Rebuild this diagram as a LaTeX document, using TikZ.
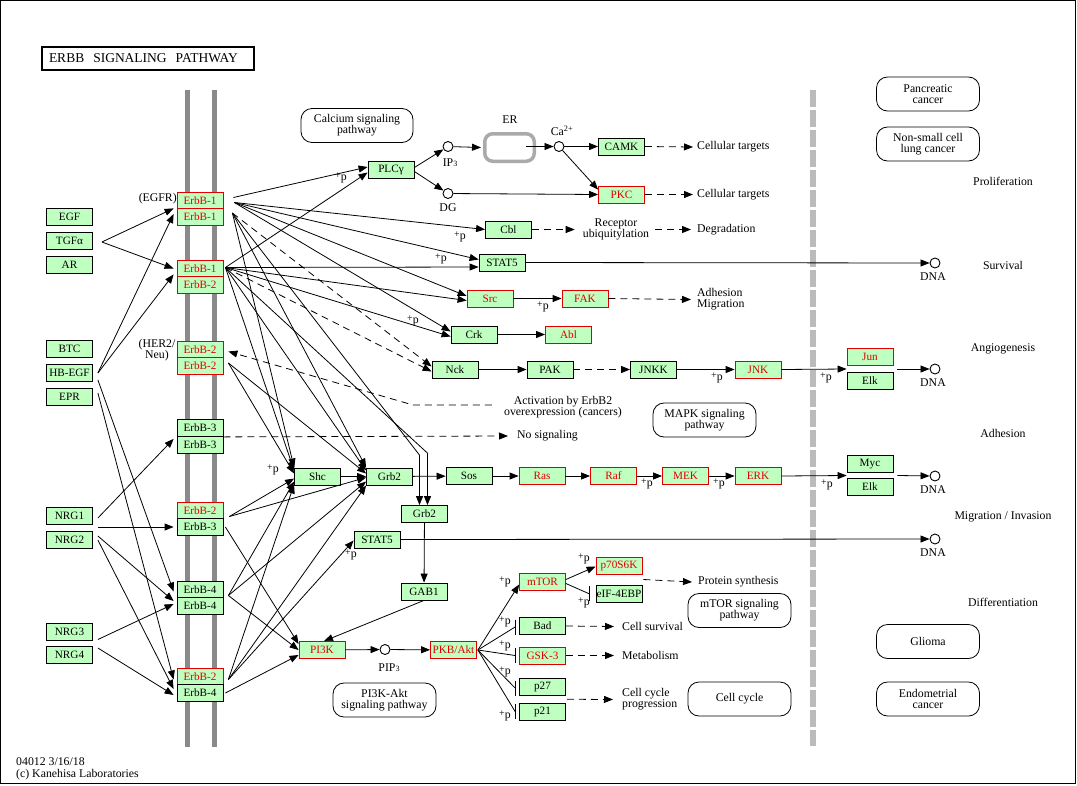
\documentclass[tikz,border=0pt]{standalone}
\usepackage{fontspec}
\setmainfont{Liberation Serif}
\usetikzlibrary{arrows.meta,calc}
\definecolor{kgreen}{HTML}{BFFFBF}
\definecolor{kred}{HTML}{E00000}
\definecolor{memgray}{HTML}{8A8A8A}
\definecolor{sepgray}{HTML}{BBBBBB}
\definecolor{ergray}{HTML}{AAAAAA}
\newcommand\kgf{\fontsize{11.2}{11}\selectfont}
\newcommand\klf{\fontsize{11.8}{11.3}\selectfont}
\newcommand\kp{\raisebox{1.5pt}{\fontsize{10}{10}\selectfont+}p}
\newcommand\ksub[1]{{\fontsize{8}{8}\selectfont #1}}
\begin{document}
\begin{tikzpicture}[x=1pt,y=-1pt,
  gene/.style={draw=black, fill=kgreen, minimum width=46pt, minimum height=17pt, inner sep=0pt, font=\kgf, line width=0.8pt},
  rgene/.style={gene, draw=kred, text=kred},
  kmap/.style={draw, rounded corners=11pt, minimum width=103pt, minimum height=34pt, align=center, font=\klf, inner sep=1pt, line width=0.8pt},
  lbl/.style={font=\klf, align=center, inner sep=0pt},
  cpd/.style={circle, draw, fill=white, minimum size=10pt, inner sep=0pt, line width=0.9pt},
  karr/.style={line width=0.8pt, -{Triangle[length=9pt,width=7pt]}},
  kdash/.style={karr, dash pattern=on 7pt off 5pt},
  kinh/.style={line width=0.8pt, -{Bar[width=15pt,line width=1pt]}},
  kline/.style={line width=0.8pt},
  mem/.style={line width=5pt, memgray},
  sepl/.style={line width=6pt, sepgray, dash pattern=on 17pt off 3pt}
]
\useasboundingbox (0,0) rectangle (1077,785);
\fill[white] (0,0) rectangle (1077,785);
\draw[line width=1.2pt] (0.6,0.6) rectangle (1075.4,783.4);

% membrane and separator
\draw[mem] (187,90) -- (187,747);
\draw[mem] (214,90) -- (214,747);
\draw[sepl] (813,90) -- (813,746);

% title and footer
\node[draw, line width=2pt, anchor=west, text width=198pt, inner xsep=7pt, minimum height=23pt, align=left, font=\fontsize{13.5}{13.5}\selectfont] (title) at (41,58.5) {ERBB\ \ SIGNALING\ \ PATHWAY};
\node[lbl, anchor=west] (foot1) at (16,762) {04012 3/16/18};
\node[lbl, anchor=west] (foot2) at (16,775) {(c) Kanehisa Laboratories};

% ligands
\node[gene] (egf) at (69.5,216.5) {EGF};
\node[gene] (tgf) at (69.5,241) {TGFα};
\node[gene] (ar) at (69.5,265) {AR};
\node[gene] (btc) at (69.5,349) {BTC};
\node[gene] (hbegf) at (69.5,373) {HB-EGF};
\node[gene] (epr) at (69.5,397) {EPR};
\node[gene] (nrg1) at (69.5,516) {NRG1};
\node[gene] (nrg2) at (69.5,540) {NRG2};
\node[gene] (nrg3) at (69.5,631.5) {NRG3};
\node[gene] (nrg4) at (69.5,655) {NRG4};

% receptors
\node[rgene] (e11a) at (200,200.5) {ErbB-1};
\node[rgene] (e11b) at (200,217) {ErbB-1};
\node[rgene] (e12a) at (200,268.5) {ErbB-1};
\node[rgene] (e12b) at (200,285) {ErbB-2};
\node[rgene] (e22a) at (200,349.5) {ErbB-2};
\node[rgene] (e22b) at (200,366) {ErbB-2};
\node[gene] (e33a) at (200,428) {ErbB-3};
\node[gene] (e33b) at (200,444.5) {ErbB-3};
\node[rgene] (e23a) at (200,510.5) {ErbB-2};
\node[gene] (e23b) at (200,527) {ErbB-3};
\node[gene] (e44a) at (200,589.5) {ErbB-4};
\node[gene] (e44b) at (200,606) {ErbB-4};
\node[rgene] (e24a) at (200,676.5) {ErbB-2};
\node[gene] (e24b) at (200,693) {ErbB-4};
\node[lbl, anchor=east] (egfr) at (177,198.5) {(EGFR)};
\node[lbl] (her2) at (157,350) {(HER2/\\Neu)};

% downstream nodes
\node[gene] (plc) at (391,169.5) {PLCγ};
\node[cpd] (ip3) at (448,146.5) {};
\node[cpd] (dg) at (448,193.5) {};
\node[draw=ergray, line width=3.5pt, rounded corners=8pt, minimum width=49.5pt, minimum height=27.5pt, inner sep=0pt] (er) at (509.5,147.5) {};
\node[cpd] (ca) at (559,146.5) {};
\node[gene] (camk) at (621.5,146.5) {CAMK};
\node[rgene] (pkc) at (621.5,194.5) {PKC};
\node[gene] (cbl) at (508.5,229.5) {Cbl};
\node[gene] (stat5a) at (502,262.5) {STAT5};
\node[rgene] (src) at (490,298.5) {Src};
\node[rgene] (fak) at (585,298.5) {FAK};
\node[gene] (crk) at (474,334.5) {Crk};
\node[rgene] (abl) at (568.5,334.5) {Abl};
\node[gene] (nck) at (455,369.5) {Nck};
\node[gene] (pak) at (550,369.5) {PAK};
\node[gene] (jnkk) at (653.5,369.5) {JNKK};
\node[rgene] (jnk) at (758,369.5) {JNK};
\node[rgene] (jun) at (870,357) {Jun};
\node[gene] (elk1) at (870,381) {Elk};
\node[gene] (shc) at (317.5,476.5) {Shc};
\node[gene] (grb2) at (389.5,476.5) {Grb2};
\node[gene] (sos) at (469,476) {Sos};
\node[rgene] (ras) at (542,476) {Ras};
\node[rgene] (raf) at (613.5,476) {Raf};
\node[rgene] (mek) at (685.5,476) {MEK};
\node[rgene] (erk) at (758,476) {ERK};
\node[gene] (myc) at (870,464) {Myc};
\node[gene] (elk2) at (870,487) {Elk};
\node[gene] (grb2b) at (424.5,514) {Grb2};
\node[gene] (stat5b) at (377,539.5) {STAT5};
\node[gene] (gab1) at (424,591.5) {GAB1};
\node[rgene] (pi3k) at (322,650) {PI3K};
\node[cpd] (pip3) at (385,649.5) {};
\node[rgene] (akt) at (453.5,650) {PKB/Akt};
\node[rgene] (mtor) at (542.5,581.5) {mTOR};
\node[rgene] (p70) at (619,565.5) {p70S6K};
\node[gene] (eif) at (619,593.5) {eIF-4EBP};
\node[gene] (bad) at (542.5,626) {Bad};
\node[rgene] (gsk) at (542.5,655.5) {GSK-3};
\node[gene] (p27) at (542.5,687) {p27};
\node[gene] (p21) at (542.5,711.5) {p21};
\node[cpd] (dna1) at (935,263) {};
\node[cpd] (dna2) at (935,369) {};
\node[cpd] (dna3) at (935,476) {};
\node[cpd] (dna4) at (935,539) {};

% compound and text labels
\node[lbl] (erl) at (510,120) {ER};
\node[lbl] (cal) at (562,131) {Ca\textsuperscript{2+}};
\node[lbl] (ip3l) at (450,163) {IP\ksub{3}};
\node[lbl] (dgl) at (448,208) {DG};
\node[lbl] (pip3l) at (389,668) {PIP\ksub{3}};
\node[lbl] (dnal1) at (933,277) {DNA};
\node[lbl] (dnal2) at (933,383) {DNA};
\node[lbl] (dnal3) at (933,490) {DNA};
\node[lbl] (dnal4) at (933,553) {DNA};
\node[lbl, anchor=west] (ct1) at (697,147) {Cellular targets};
\node[lbl, anchor=west] (ct2) at (697,194.5) {Cellular targets};
\node[lbl] (rubq) at (616,229.5) {Receptor\\ubiquitylation};
\node[lbl, anchor=west] (degr) at (697,229.5) {Degradation};
\node[lbl, anchor=west, align=left] (admi) at (697,299.5) {Adhesion\\Migration};
\node[lbl] (act) at (563,407) {Activation by ErbB2\\overexpression (cancers)};
\node[lbl, anchor=west] (nosig) at (517,436) {No signaling};
\node[lbl, anchor=west] (psyn) at (698,582) {Protein synthesis};
\node[lbl, anchor=west] (csurv) at (622,626.5) {Cell survival};
\node[lbl, anchor=west] (metab) at (622,655.5) {Metabolism};
\node[lbl, anchor=west, align=left] (ccp) at (622,699.5) {Cell cycle\\progression};

% right side labels
\node[lbl] (prol) at (1003,181) {Proliferation};
\node[lbl] (surv) at (1003,265) {Survival};
\node[lbl] (angi) at (1003,349) {Angiogenesis};
\node[lbl] (adhe) at (1003,433) {Adhesion};
\node[lbl] (migr) at (1003,517) {Migration / Invasion};
\node[lbl] (diff) at (1003,602) {Differentiation};

% maps
\node[kmap, minimum width=112pt] (calcm) at (357,125.5) {Calcium signaling\\pathway};
\node[kmap] (mapk) at (704.5,420) {MAPK signaling\\pathway};
\node[kmap] (pi3km) at (384.5,700) {PI3K-Akt\\signaling pathway};
\node[kmap] (mtorm) at (739.5,610.5) {mTOR signaling\\pathway};
\node[kmap] (ccyc) at (739.5,699) {Cell cycle};
\node[kmap] (panc) at (928,94) {Pancreatic\\cancer};
\node[kmap] (nsclc) at (928,144) {Non-small cell\\lung cancer};
\node[kmap] (glio) at (928,641.5) {Glioma};
\node[kmap] (endo) at (928,699) {Endometrial\\cancer};

% +p labels
\node[lbl] (pp1) at (341,178) {\kp};
\node[lbl] (pp2) at (460,237) {\kp};
\node[lbl] (pp3) at (441,259) {\kp};
\node[lbl] (pp4) at (543,307) {\kp};
\node[lbl] (pp5) at (413,321) {\kp};
\node[lbl] (pp6) at (273,470) {\kp};
\node[lbl] (pp7) at (351,555) {\kp};
\node[lbl] (pp8) at (717,378) {\kp};
\node[lbl] (pp9) at (826,378) {\kp};
\node[lbl] (pp10) at (647,484) {\kp};
\node[lbl] (pp11) at (719,484) {\kp};
\node[lbl] (pp12) at (827,485) {\kp};
\node[lbl] (pp13) at (505,582) {\kp};
\node[lbl] (pp14) at (584,559) {\kp};
\node[lbl] (pp15) at (584,603) {\kp};
\node[lbl] (pp16) at (505,622) {\kp};
\node[lbl] (pp17) at (505,646) {\kp};
\node[lbl] (pp18) at (505,672) {\kp};
\node[lbl] (pp19) at (505,716) {\kp};

% ligand group points
\coordinate (gE) at ($(tgf.east)+(9,1)$);
\coordinate (gB) at ($(hbegf.east)+(5,0)$);
\coordinate (gB1) at ($(hbegf.east)+(5,7)$);
\coordinate (gB2) at ($(epr.east)+(5,-4)$);
\coordinate (gN1) at ($(nrg1.east)+(5,2)$);
\coordinate (gN) at ($(nrg1.east)+(5,11)$);
\coordinate (gN2) at ($(nrg2.east)+(5,-4)$);
\coordinate (gN3) at ($(nrg2.east)+(5,0)$);
\coordinate (gM1) at ($(nrg3.east)+(5,8)$);
\coordinate (gM2) at ($(nrg4.east)+(5,-7)$);

% ligand -> receptor
\draw[karr] (gE) -- ($(e11a.south west)+(-3,-1)$);
\draw[karr] (gE) -- ($(e12a.west)+(-3,0)$);
\draw[karr] (gB) -- ($(e11b.west)+(-3,-3)$);
\draw[karr] (gB) -- ($(e12a.south west)+(-3,-3)$);
\draw[karr] (gB1) -- ($(e44a.west)+(-3,2)$);
\draw[karr] (gB2) -- ($(e24a.west)+(-3,3)$);
\draw[karr] (gN1) -- ($(e33a.south west)+(-3,2)$);
\draw[karr] (gN) -- ($(e23b.west)+(-3,0)$);
\draw[karr] (gN2) -- ($(e44b.west)+(-3,-5)$);
\draw[karr] (gN3) -- ($(e24b.west)+(-3,-4)$);
\draw[karr] (gM1) -- ($(e44b.west)+(-3,-2)$);
\draw[karr] (gM2) -- ($(e24b.west)+(-3,2)$);

% receptor source points
\coordinate (s11p) at ($(e11a.east)+(10,-3)$);
\coordinate (s11) at ($(e11a.east)+(11,2)$);
\coordinate (s11d) at ($(e11b.east)+(9,-4)$);
\coordinate (s12) at ($(e12a.east)+(2,-1)$);
\coordinate (s22) at ($(e22b.east)+(5,-3)$);
\coordinate (s23) at ($(e23a.east)+(6,6)$);
\coordinate (s23b) at ($(e23b.east)+(2,0)$);
\coordinate (s44) at ($(e44a.east)+(5,6)$);
\coordinate (s24) at ($(e24a.east)+(5,3)$);
\coordinate (s24b) at ($(e24b.east)+(2,0)$);

% ErbB-1 fan
\draw[karr] (s11p) -- ($(plc.west)+(0,-2.5)$);
\draw[karr] (s12) -- ($(plc.west)+(0,3)$);
\draw[karr] (s11) -- (cbl.west);
\draw[karr] (s11) -- ($(stat5a.west)+(0,-3)$);
\draw[karr] (s12) -- ($(stat5a.west)+(0,4.5)$);
\draw[karr] (s11) -- ($(src.west)+(0,-2.5)$);
\draw[karr] (s12) -- ($(src.west)+(0,2)$);
\draw[karr] (s11) -- ($(crk.west)+(0,-3)$);
\draw[karr] (s12) -- ($(crk.west)+(0,2)$);
\draw[kdash] (s11d) -- ($(nck.west)+(0,-3)$);
\draw[kdash] (s12) -- ($(nck.west)+(0,2)$);
\draw[karr] (s11d) -- ($(grb2b.north)+(-5,-50)$) -- ($(grb2b.north)+(-5,0)$);
\draw[karr] (s12) -- ($(grb2b.north)+(3,-52)$) -- ($(grb2b.north)+(3,0)$);

% to Shc / Grb2 / PI3K / STAT5
\foreach \src/\dy in {s11d/-9,s12/-6,s22/-3,s23/2,s44/5,s24/8}
  \draw[karr] (\src) -- ($(shc.west)+(0,\dy)$);
\foreach \src/\dy in {s11d/-9,s12/-6,s22/-3,s23/1,s44/5,s24/9}
  \draw[karr] (\src) -- ($(grb2.west)+(0,\dy)$);
\foreach \src/\dy in {s23b/-6,s44/0,s24b/5}
  \draw[karr] (\src) -- ($(pi3k.west)+(0,\dy)$);
\draw[karr] (s24) -- ($(stat5b.west)+(0,1)$);

% ErbB2 overexpression and no signaling
\draw[kdash] ($(act.west)+(-12,-2)$) -- ++(-79,0) -- ($(e22a.east)+(5,2)$);
\draw[kdash] (e33a.south east) -- ($(nosig.west)+(-9,0)$);

% calcium branch
\draw[karr] ($(plc.east)+(0,-2)$) -- (ip3);
\draw[karr] ($(plc.east)+(0,2)$) -- (dg);
\draw[karr] (ip3) -- ($(er.west)+(-2,0)$);
\draw[karr] ($(er.center)+(16,-1)$) -- (ca);
\draw[karr] (ca) -- (camk.west);
\draw[karr] (ca) -- ($(pkc.north west)+(0,4)$);
\draw[karr] (dg) -- (pkc.west);
\draw[kdash] (camk.east) -- ($(ct1.west)+(-4,0)$);
\draw[kdash] (pkc.east) -- ($(ct2.west)+(-4,0)$);
\draw[kdash] (cbl.east) -- ($(rubq.west)+(-8,0)$);
\draw[kdash] ($(rubq.east)+(6,0)$) -- ($(degr.west)+(-6,0)$);
\draw[karr] (stat5a.east) -- (dna1);
\draw[karr] (src) -- (fak);
\draw[kdash] (fak.east) -- ($(admi.west)+(-6,0)$);
\draw[karr] (crk) -- (abl);

% JNK branch
\draw[karr] (nck) -- (pak);
\draw[kdash] (pak) -- (jnkk);
\draw[karr] (jnkk) -- (jnk);
\coordinate (je) at ($(jun.south west)!0.5!(elk1.north west)$);
\draw[karr] (jnk.east) -- (je);
\draw[karr] ($(jun.south east)!0.5!(elk1.north east)+(4,0)$) -- (dna2);

% MAPK branch
\draw[karr] (shc) -- (grb2);
\draw[karr] (grb2) -- (sos);
\draw[karr] (sos) -- (ras);
\draw[karr] (ras) -- (raf);
\draw[karr] (raf) -- (mek);
\draw[karr] (mek) -- (erk);
\coordinate (me) at ($(myc.south west)!0.5!(elk2.north west)$);
\draw[karr] (erk.east) -- (me);
\draw[karr] ($(myc.south east)!0.5!(elk2.north east)+(4,0)$) -- (dna3);

% PI3K branch
\draw[karr] (grb2b) -- (gab1);
\draw[karr] (gab1.south) -- ($(pi3k.north)+(2,0)$);
\draw[karr] (stat5b.east) -- (dna4);
\draw[karr] (pi3k) -- (pip3);
\draw[karr] (pip3) -- (akt);
\coordinate (ak) at ($(akt.east)+(1,0)$);
\draw[karr] (ak) -- ($(mtor.west)+(0,3)$);
\draw[kinh] (ak) -- ($(bad.west)+(-4,1)$) -- ($(bad.west)+(-3,1)$);
\draw[kinh] (ak) -- ($(gsk.west)+(-4,0)$) -- ($(gsk.west)+(-3,0)$);
\draw[kinh] (ak) -- ($(p27.west)+(-4,1)$) -- ($(p27.west)+(-3,1)$);
\draw[kinh] (ak) -- ($(p21.west)+(-4,0)$) -- ($(p21.west)+(-3,0)$);
\draw[karr] ($(mtor.east)+(0,-2)$) -- ($(p70.west)+(0,1)$);
\draw[kinh] ($(mtor.east)+(0,2)$) -- ($(eif.west)+(-7,0)$) -- ($(eif.west)+(-6,0)$);
\draw[kdash] ($(p70.south east)!0.5!(eif.north east)+(1,0)$) -- ($(psyn.west)+(-6,0)$);
\draw[kdash] (bad.east) -- ($(csurv.west)+(-8,0)$);
\draw[kdash] (gsk.east) -- ($(metab.west)+(-8,0)$);
\draw[kdash] ($(p27.south east)!0.5!(p21.north east)+(1,0)$) -- ($(ccp.west)+(-9,0)$);
\end{tikzpicture}
\end{document}
